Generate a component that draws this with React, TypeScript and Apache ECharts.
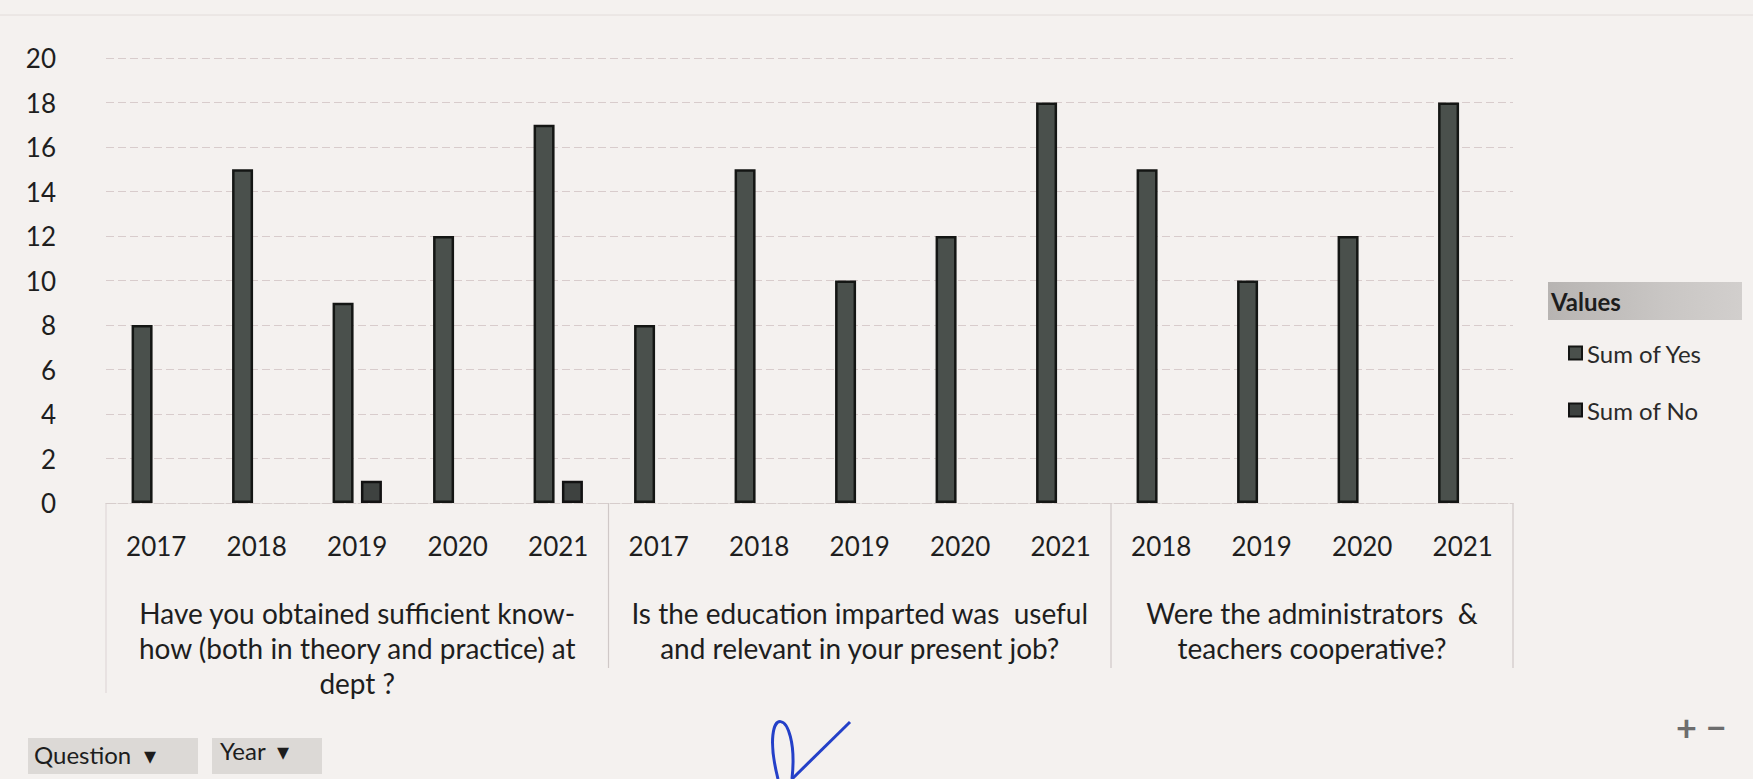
import React, { useEffect, useRef } from "react";
import * as echarts from "echarts";

// ---- data ----
const years = ["2017", "2018", "2019", "2020", "2021", "2017", "2018", "2019", "2020", "2021", "2018", "2019", "2020", "2021"];
const questions = [
  "Have you obtained sufficient know-\nhow (both in theory and practice) at\ndept ?",
  "Is the education imparted was  useful\nand relevant in your present job?",
  "Were the administrators  &\nteachers cooperative?",
];
const groupSizes = [5, 5, 4];
const sumYes = [8, 15, 9, 12, 17, 8, 15, 10, 12, 18, 15, 10, 12, 18];
const sumNo = [null, null, 1, null, 1, null, null, null, null, null, null, null, null, null];
const seriesNames = ["Sum of Yes", "Sum of No"];
const yMin = 0;
const yMax = 20;
const yStep = 2;

const FONT = "Lato, 'Open Sans', sans-serif";
const W = 1753;
const H = 779;
const GRID = { left: 106, right: 240, top: 58, bottom: 276 };

export default function App() {
  const ref = useRef<HTMLDivElement>(null);
  useEffect(() => {
    document.body.style.margin = "0";
    if (!ref.current) return;
    const chart = echarts.init(ref.current, null, { renderer: "svg" });

    // second axis: half-category slots, labels centered on each question group
    const slots: string[] = [];
    for (let i = 0; i <= years.length * 2; i++) slots.push("s" + i);
    const labelAt: Record<number, string> = {};
    let start = 0;
    const boundaries: number[] = [0];
    groupSizes.forEach((n, g) => {
      labelAt[2 * start + n] = questions[g];
      start += n;
      boundaries.push(start);
    });

    const plotW = W - GRID.left - GRID.right;
    const baseY = H - GRID.bottom;
    const bandW = plotW / years.length;

    const sepLines = boundaries.map((b, k) => ({
      type: "line",
      shape: { x1: GRID.left + b * bandW, y1: baseY, x2: GRID.left + b * bandW, y2: baseY + (k === 0 ? 190 : 165) },
      style: { stroke: k === 0 ? "#e0d9d8" : "#cfc8c7", lineWidth: 1.2 },
      silent: true,
    }));

    chart.setOption({
      animation: false,
      backgroundColor: "#f4f1ef",
      grid: { ...GRID },
      textStyle: { fontFamily: FONT },
      legend: {
        orient: "vertical",
        left: 1563,
        top: 336,
        itemWidth: 13,
        itemHeight: 13,
        itemGap: 33,
        icon: "rect",
        data: seriesNames,
        textStyle: { fontFamily: FONT, fontSize: 24, color: "#2a2a2a" },
      },
      xAxis: [
        {
          type: "category",
          data: years,
          axisLine: { show: true, lineStyle: { color: "#d6cdcc", type: "dashed" } },
          axisTick: { show: false },
          axisLabel: { interval: 0, margin: 30, fontSize: 26, color: "#1e1e1e", fontFamily: FONT },
        },
        {
          type: "category",
          data: slots,
          position: "bottom",
          boundaryGap: false,
          axisLine: { show: false },
          axisTick: { show: false },
          axisLabel: {
            interval: 0,
            margin: 92,
            fontSize: 28,
            lineHeight: 35,
            color: "#1e1e1e",
            fontFamily: FONT,
            verticalAlign: "top",
            formatter: (_v: string, i: number) => labelAt[i] || "",
          },
        },
      ],
      yAxis: {
        type: "value",
        min: yMin,
        max: yMax,
        interval: yStep,
        axisLine: { show: false },
        axisTick: { show: false },
        axisLabel: { fontSize: 26, color: "#1e1e1e", margin: 50, fontFamily: FONT },
        splitLine: { show: true, lineStyle: { color: "#d8cccc", type: [8, 4], width: 1.2 } },
      },
      series: [
        {
          name: seriesNames[0],
          type: "bar",
          data: sumYes,
          barWidth: 21,
          barGap: "35%",
          itemStyle: { color: "#4a504c", borderColor: "#141614", borderWidth: 2.5 },
        },
        {
          name: seriesNames[1],
          type: "bar",
          data: sumNo,
          barWidth: 21,
          itemStyle: { color: "#3e4240", borderColor: "#121212", borderWidth: 2.5 },
        },
      ],
      graphic: [
        ...sepLines,
        {
          type: "line",
          shape: { x1: 0, y1: 15, x2: W, y2: 15 },
          style: { stroke: "#e2dcda", lineWidth: 1 },
          silent: true,
        },
        // legend header "Values"
        {
          type: "rect",
          shape: { x: 1548, y: 282, width: 194, height: 38 },
          style: {
            fill: new echarts.graphic.LinearGradient(0, 0, 1, 0, [
              { offset: 0, color: "#b7b4b2" },
              { offset: 0.6, color: "#c9c6c4" },
              { offset: 1, color: "#d2cfcd" },
            ]),
          },
          silent: true,
        },
        {
          type: "text",
          x: 1551,
          y: 301,
          style: { text: "Values", fontSize: 24, fontWeight: "bold", fill: "#1d1d1d", fontFamily: FONT, verticalAlign: "middle" },
        },
        // pivot field buttons
        {
          type: "rect",
          shape: { x: 28, y: 738, width: 170, height: 36 },
          style: { fill: "#dcd9d6" },
          silent: true,
        },
        {
          type: "rect",
          shape: { x: 212, y: 738, width: 110, height: 36 },
          style: { fill: "#dcd9d6" },
          silent: true,
        },
        {
          type: "text",
          x: 34,
          y: 754,
          style: { text: "Question  \u25BE", fontSize: 24, fill: "#1d1d1d", fontFamily: FONT, verticalAlign: "middle" },
        },
        {
          type: "text",
          x: 220,
          y: 750,
          style: { text: "Year  \u25BE", fontSize: 24, fill: "#1d1d1d", fontFamily: FONT, verticalAlign: "middle" },
        },
        {
          type: "text",
          x: 1676,
          y: 727,
          style: { text: "+ \u2212", fontSize: 36, fontWeight: "bold", fill: "#6d6d6d", fontFamily: FONT, verticalAlign: "middle" },
        },
        // ink signature
        {
          type: "bezierCurve",
          shape: { x1: 778, y1: 779, cpx1: 758, cpy1: 700, cpx2: 800, cpy2: 705, x2: 792, y2: 779 },
          style: { stroke: "#2440c8", lineWidth: 3, fill: null },
          silent: true,
        },
        {
          type: "line",
          shape: { x1: 792, y1: 779, x2: 850, y2: 722 },
          style: { stroke: "#2440c8", lineWidth: 3 },
          silent: true,
        },
      ],
    });
    return () => chart.dispose();
  }, []);
  return <div ref={ref} style={{ width: W, height: H, background: "#f4f1ef" }} />;
}
